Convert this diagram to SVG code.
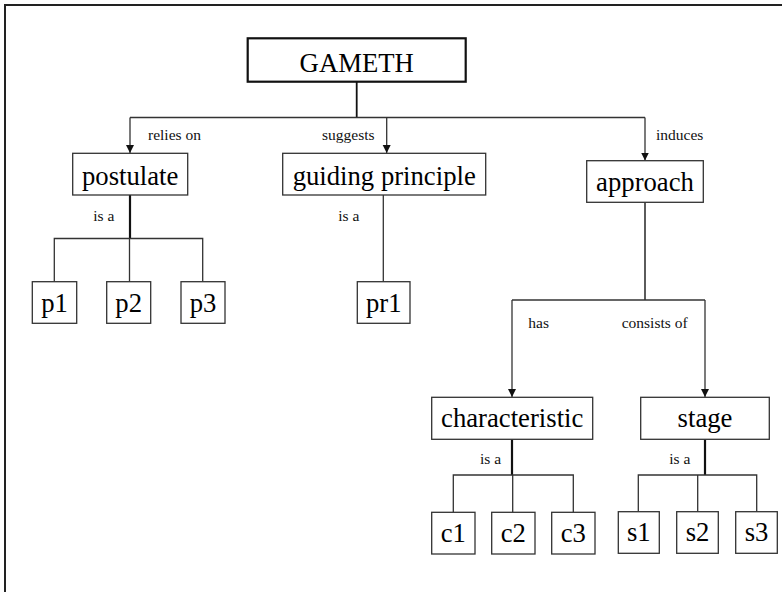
<svg xmlns="http://www.w3.org/2000/svg" width="782" height="592" viewBox="0 0 782 592">
<style>
.box{fill:#fff;stroke:#333;stroke-width:1.3}
.nt{font-family:"Liberation Serif","Times New Roman",serif;font-size:26.7px;fill:#000;text-anchor:middle}
.lt{font-family:"Liberation Serif","Times New Roman",serif;font-size:15.5px;fill:#111}
.ln{fill:none;stroke:#333;stroke-width:1.3}
.tk{fill:none;stroke:#111;stroke-width:2.2}
</style>
<defs>
<marker id="ah" markerUnits="userSpaceOnUse" markerWidth="10" markerHeight="10" refX="8" refY="4" orient="auto">
<path d="M0,0 L8,4 L0,8 Z" fill="#111"/>
</marker>
</defs>
<rect width="782" height="592" fill="#fff"/>
<path d="M5,600 V5 H790" fill="none" stroke="#222" stroke-width="2"/>
<g id="connectors">
<path class="tk" d="M356.7,82 V117.5" style="stroke-width:1.8"/>
<path class="ln" d="M130,117.5 H645"/>
<path class="ln" d="M130,117.5 V153" marker-end="url(#ah)"/>
<path class="ln" d="M386.7,117.5 V153" marker-end="url(#ah)"/>
<path class="ln" d="M645,117.5 V160.5" marker-end="url(#ah)"/>
<path class="tk" d="M130,195 V238.5"/>
<path class="ln" d="M54.3,281.7 V238.5 H202.7 V281.7 M129.5,238.5 V281.7"/>
<path class="ln" d="M383.3,195 V281.7"/>
<path class="ln" d="M645,202.3 V300" style="stroke-width:1.6"/>
<path class="ln" d="M512,300 H705"/>
<path class="ln" d="M512,300 V397" marker-end="url(#ah)"/>
<path class="ln" d="M705,300 V397" marker-end="url(#ah)"/>
<path class="tk" d="M512,439.3 V475"/>
<path class="ln" d="M453.3,512.3 V475 H573.3 V512.3 M512.7,475 V512.3"/>
<path class="tk" d="M705,439.3 V475"/>
<path class="ln" d="M638.3,511.7 V475 H756.7 V511.7 M697.7,475 V511.7"/>
<text class="lt" x="148" y="140">relies on</text>
<text class="lt" x="322" y="140">suggests</text>
<text class="lt" x="656" y="140">induces</text>
<text class="lt" x="93.3" y="220.7">is a</text>
<text class="lt" x="338.3" y="220.7">is a</text>
<text class="lt" x="528.3" y="328">has</text>
<text class="lt" x="621.7" y="328">consists of</text>
<text class="lt" x="480" y="464">is a</text>
<text class="lt" x="669.3" y="464">is a</text>
</g>
<g id="n-gameth"><rect class="box" x="247.7" y="38.3" width="218" height="43.4" style="stroke:#111;stroke-width:2.2"/><text class="nt" x="356.7" y="71.7">GAMETH</text></g>
<g id="n-postulate"><rect class="box" x="72.7" y="153.3" width="115" height="41.7"/><text class="nt" x="130.2" y="185">postulate</text></g>
<g id="n-guiding"><rect class="box" x="282.7" y="153.3" width="203" height="41.7"/><text class="nt" x="384.2" y="185">guiding principle</text></g>
<g id="n-approach"><rect class="box" x="586.7" y="160.7" width="116.6" height="41.6"/><text class="nt" x="645" y="190.7">approach</text></g>
<g id="n-p1"><rect class="box" x="32.3" y="281.7" width="44.4" height="41.6"/><text class="nt" x="54.5" y="311.7">p1</text></g>
<g id="n-p2"><rect class="box" x="106.7" y="281.7" width="44" height="41.6"/><text class="nt" x="128.7" y="311.7">p2</text></g>
<g id="n-p3"><rect class="box" x="181" y="281.7" width="44" height="41.6"/><text class="nt" x="203" y="311.7">p3</text></g>
<g id="n-pr1"><rect class="box" x="357.3" y="281.7" width="52.7" height="41.6"/><text class="nt" x="383.7" y="311.7">pr1</text></g>
<g id="n-characteristic"><rect class="box" x="431.7" y="397.3" width="161" height="42"/><text class="nt" x="512.2" y="426.7">characteristic</text></g>
<g id="n-stage"><rect class="box" x="640.7" y="397.3" width="128.6" height="42"/><text class="nt" x="705" y="426.7">stage</text></g>
<g id="n-c1"><rect class="box" x="431.7" y="512.3" width="43.3" height="41.7"/><text class="nt" x="453.3" y="541.7">c1</text></g>
<g id="n-c2"><rect class="box" x="491.7" y="512.3" width="43.3" height="41.7"/><text class="nt" x="513.3" y="541.7">c2</text></g>
<g id="n-c3"><rect class="box" x="551.7" y="512.3" width="43.3" height="41.7"/><text class="nt" x="573.3" y="541.7">c3</text></g>
<g id="n-s1"><rect class="box" x="618.3" y="511.7" width="41" height="41.6"/><text class="nt" x="638.8" y="541.2">s1</text></g>
<g id="n-s2"><rect class="box" x="676.7" y="511.7" width="41.6" height="41.6"/><text class="nt" x="697.5" y="541.2">s2</text></g>
<g id="n-s3"><rect class="box" x="735.7" y="511.7" width="41.6" height="41.6"/><text class="nt" x="756.5" y="541.2">s3</text></g>
</svg>
